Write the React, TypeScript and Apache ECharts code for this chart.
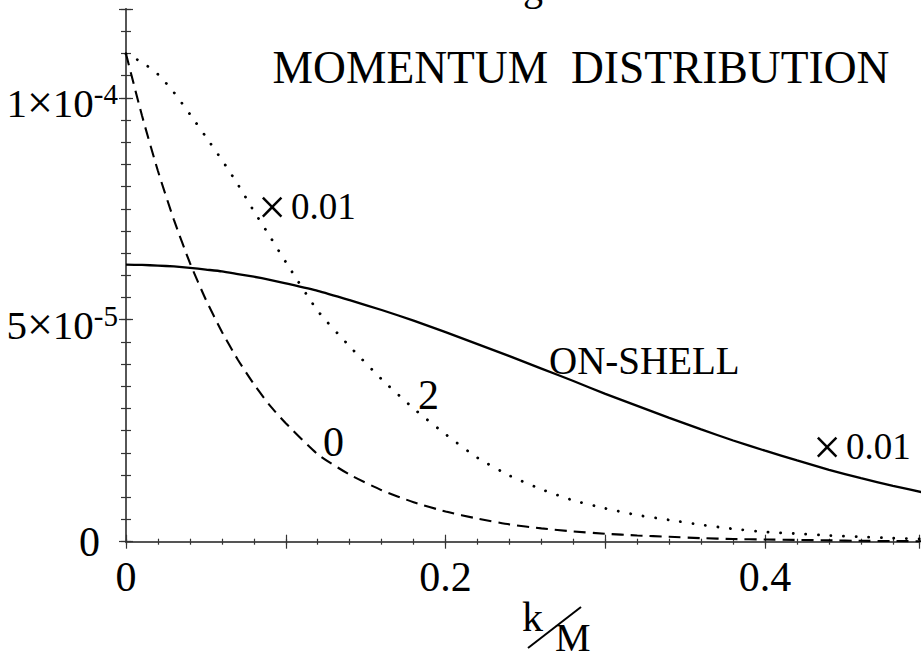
import React, { useEffect, useRef } from 'react';
import * as echarts from 'echarts';

// k/M sample points
const kValues = [0, 0.01, 0.02, 0.03, 0.04, 0.05, 0.06, 0.07, 0.08, 0.09, 0.1,
  0.12, 0.14, 0.16, 0.18, 0.2, 0.22, 0.24, 0.26, 0.28, 0.3, 0.32, 0.34, 0.36,
  0.38, 0.4, 0.42, 0.44, 0.46, 0.48, 0.5];

// values in units of 1e-5
const onShell = [6.24, 6.235, 6.22, 6.2, 6.17, 6.13, 6.09, 6.03, 5.97, 5.9, 5.82,
  5.65, 5.44, 5.22, 4.98, 4.72, 4.45, 4.18, 3.9, 3.62, 3.33, 3.06, 2.79, 2.53,
  2.28, 2.05, 1.83, 1.62, 1.43, 1.26, 1.1];

const curve2 = [10.99, 10.8, 10.53, 10.12, 9.63, 9.12, 8.6, 8.05, 7.45, 6.88, 6.3,
  5.2, 4.4, 3.66, 3.0, 2.42, 1.89, 1.49, 1.18, 0.93, 0.75, 0.6, 0.49, 0.38,
  0.29, 0.22, 0.18, 0.14, 0.11, 0.08, 0.06];

const curve0 = [10.99, 9.6, 8.35, 7.25, 6.28, 5.45, 4.73, 4.1, 3.55, 3.07, 2.67,
  1.97, 1.51, 1.16, 0.89, 0.68, 0.52, 0.39, 0.3, 0.23, 0.18, 0.14, 0.11, 0.08,
  0.06, 0.05, 0.04, 0.03, 0.02, 0.015, 0.01];

const xTickValues = [0, 0.2, 0.4];
const xTickLabels = ['0', '0.2', '0.4'];
const yTickValues = [0, 5, 10];
const yTickLabels = ['{z|0}', '{a|5}{x|×}{a|10}{b|-5}', '{a|1}{x|×}{a|10}{b|-4}'];

const FONT = '"Liberation Serif", "Times New Roman", serif';

const X_MAX = 0.4965;
const Y_MAX = 12;

function xLabel(v: number): string {
  for (let i = 0; i < xTickValues.length; i++) {
    if (Math.abs(v - xTickValues[i]) < 1e-6) return xTickLabels[i];
  }
  return '';
}
function yLabel(v: number): string {
  for (let i = 0; i < yTickValues.length; i++) {
    if (Math.abs(v - yTickValues[i]) < 1e-6) return yTickLabels[i];
  }
  return '';
}

export default function App() {
  const ref = useRef<HTMLDivElement>(null);
  useEffect(() => {
    if (!ref.current) return;
    const chart = echarts.init(ref.current, null, { renderer: 'svg' });
    const gridRect = { left: 126, top: 9, width: 793.3, height: 532.7 };
    const frameLine = { show: true, lineStyle: { color: '#555', width: 1.8 } };
    const tickStyle = { color: '#333', width: 1.2 };
    const mkX = (grid: number, pos: string, interval: number, len: number, labels: boolean) => ({
      type: 'value', gridIndex: grid, position: pos, min: 0, max: X_MAX, interval,
      axisLine: grid === 0 ? frameLine : { show: false },
      axisTick: { show: true, inside: true, length: len, lineStyle: tickStyle },
      axisLabel: labels
        ? { show: true, formatter: xLabel, margin: 14, fontSize: 42, fontFamily: FONT, color: '#000' }
        : { show: false },
      splitLine: { show: false },
    });
    const mkY = (grid: number, pos: string, interval: number, len: number, labels: boolean) => ({
      type: 'value', gridIndex: grid, position: pos, min: 0, max: Y_MAX, interval,
      axisLine: grid === 0 ? frameLine : { show: false },
      axisTick: { show: true, inside: true, length: len, lineStyle: tickStyle },
      axisLabel: labels
        ? {
            show: true, formatter: yLabel, margin: 8, color: '#000', fontFamily: FONT,
            rich: {
              a: { fontSize: 41, lineHeight: 60, padding: [10, 0, 0, 0], fontFamily: FONT, color: '#000' },
              x: { fontSize: 46, lineHeight: 60, padding: [10, 0, 0, 0], fontFamily: FONT, color: '#000' },
              b: { fontSize: 29, lineHeight: 28, padding: [12, 0, 0, 0], verticalAlign: 'top', fontFamily: FONT, color: '#000' },
              z: { fontSize: 42, padding: [0, 18, 0, 0], fontFamily: FONT, color: '#000' },
            },
          }
        : { show: false },
      splitLine: { show: false },
    });
    const toData = (vals: number[]) => kValues.map((k, i) => [k, vals[i]]);
    const txt = (text: string, x: number, y: number, size: number, align = 'left') => ({
      type: 'text',
      style: {
        text, x, y, font: `${size}px ${FONT}`, fill: '#000',
        align, verticalAlign: 'middle', textAlign: align, textVerticalAlign: 'middle',
      },
    });
    const times = (x: number, y: number) => ({
      type: 'group',
      children: [
        txt('×', x, y + 1, 50),
        txt('0.01', x + 33, y, 37),
      ],
    });
    chart.setOption({
      animation: false,
      backgroundColor: '#fff',
      grid: [gridRect, gridRect],
      xAxis: [
        mkX(0, 'bottom', 0.1, 7, true),
        mkX(0, 'top', 0.1, 7, false),
        mkX(1, 'bottom', 0.02, 3, false),
        mkX(1, 'top', 0.02, 3, false),
      ],
      yAxis: [
        mkY(0, 'left', 5, 7, true),
        mkY(0, 'right', 5, 7, false),
        mkY(1, 'left', 0.5, 5, false),
        mkY(1, 'right', 0.5, 5, false),
      ],
      series: [
        {
          name: 'ON-SHELL', type: 'line', xAxisIndex: 0, yAxisIndex: 0, data: toData(onShell),
          showSymbol: false, smooth: 0.2, clip: true,
          lineStyle: { color: '#000', width: 2.3, type: 'solid' },
        },
        {
          name: '2', type: 'line', xAxisIndex: 0, yAxisIndex: 0, data: toData(curve2),
          showSymbol: false, smooth: 0.2, clip: true,
          lineStyle: { color: '#000', width: 2.8, type: [0.1, 12.5], cap: 'round' },
        },
        {
          name: '0', type: 'line', xAxisIndex: 0, yAxisIndex: 0, data: toData(curve0),
          showSymbol: false, smooth: 0.2, clip: true,
          lineStyle: { color: '#000', width: 2.1, type: [12, 7] },
        },
      ],
      graphic: [
        txt('MOMENTUM  DISTRIBUTION', 581, 67, 45.5, 'center'),
        times(258, 206),
        times(813, 446),
        txt('ON-SHELL', 549, 360, 39),
        txt('2', 418, 395, 42),
        txt('0', 323, 442, 42),
        txt('k', 522, 617, 42),
        txt('M', 555, 637, 40),
        txt('g', 523, -14, 40),
        { type: 'line', shape: { x1: 528, y1: 648, x2: 581, y2: 607 }, style: { stroke: '#000', lineWidth: 2 } },
      ],
    });
    return () => chart.dispose();
  }, []);
  return <div ref={ref} style={{ position: 'absolute', left: 0, top: 0, width: 924, height: 660 }} />;
}
